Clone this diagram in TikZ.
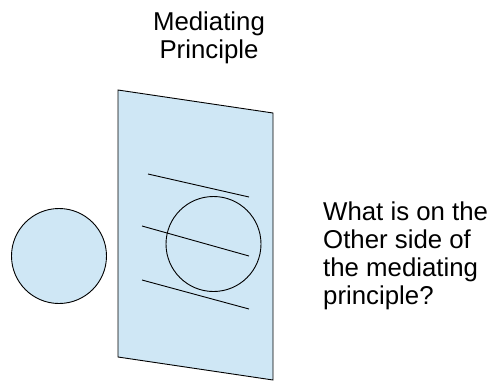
\documentclass[tikz,border=0pt]{standalone}
\usepackage{fontspec}
\setmainfont{Liberation Sans}
\usepackage{xcolor}
\usetikzlibrary{positioning}
\definecolor{planecolor}{HTML}{CFE7F5}

\begin{document}
\begin{tikzpicture}[
    x=1pt, y=-1pt,
    plane/.style={draw=black, fill=planecolor, line width=0.9pt, line join=miter},
    disc/.style={circle, draw=black, fill=planecolor, line width=0.9pt, minimum size=95pt, inner sep=0pt},
    ring/.style={circle, draw=black, line width=0.9pt, minimum size=95pt, inner sep=0pt},
    stroke/.style={draw=black, line width=0.9pt},
    caption/.style={font=\fontsize{25.8}{28}\selectfont, inner sep=0pt}
]
\useasboundingbox (0,0) rectangle (496,383);
% the mediating principle
\draw[plane] (118,90) -- (273,113) -- (273,380) -- (118,357) -- cycle;
\node[caption, align=center, anchor=base] (title) at (209,58) {Mediating\\Principle};
% what is drawn on it
\draw[stroke] (148,174) -- (249,197);
\draw[stroke] (142,226) -- (249,256);
\draw[stroke] (142,280) -- (249,309);
\node[ring] (inner) at (213.5,244) {};
% this side
\node[disc] (outer) at (59,256) {};
\node[caption, align=left, anchor=base west] (question) at (323,304) {What is on the\\Other side of\\the mediating\\principle?};
\end{tikzpicture}
\end{document}
